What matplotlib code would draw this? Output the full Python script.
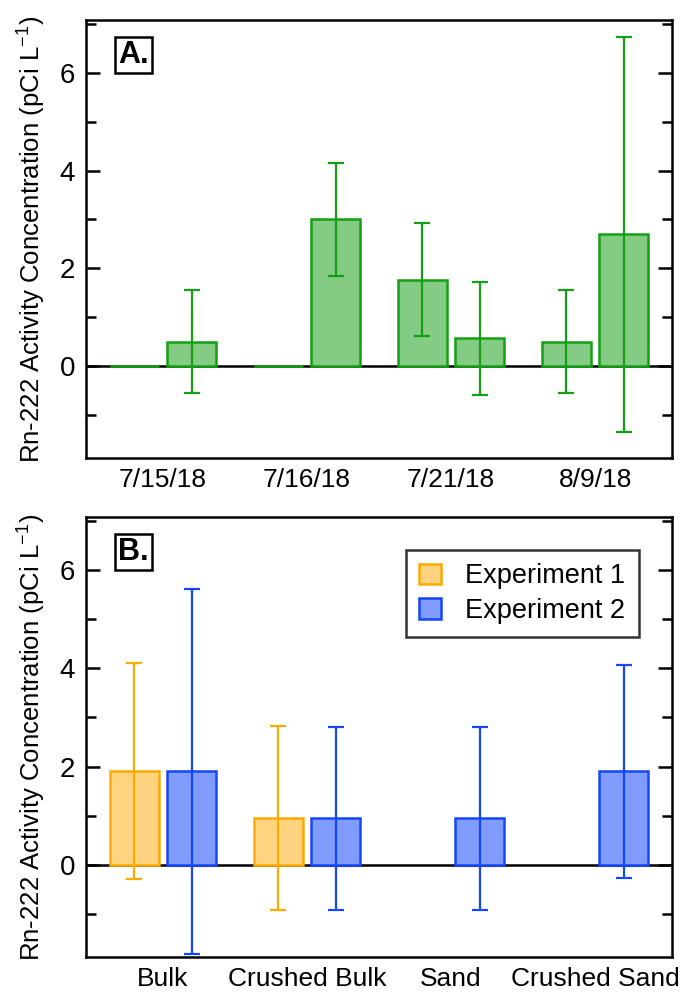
import numpy as np
import matplotlib.pyplot as plt
from matplotlib.patches import Patch

plt.rcParams['font.family'] = ['Liberation Sans', 'DejaVu Sans']

# panel A : sampling dates, two samples per date
dates = ['7/15/18', '7/16/18', '7/21/18', '8/9/18']
a_first = [0.0, 0.0, 1.77, 0.5]
a_first_err = [np.nan, np.nan, 1.15, 1.05]
a_second = [0.5, 3.0, 0.57, 2.7]
a_second_err = [1.05, 1.15, 1.16, 4.04]

# panel B : sample types, two experiments
samples = ['Bulk', 'Crushed Bulk', 'Sand', 'Crushed Sand']
exp1 = [1.91, 0.95, np.nan, np.nan]
exp1_err = [2.19, 1.87, np.nan, np.nan]
exp2 = [1.90, 0.95, 0.95, 1.90]
exp2_err = [3.72, 1.86, 1.86, 2.17]

ylab = 'Rn-222 Activity Concentration (pCi L$^{\\mathregular{-1}}$)'
w = 0.34
off = 0.2

green_e, green_f = '#14a014', '#84cc84'
orange_e, orange_f = '#ffaa00', '#ffd480'
blue_e, blue_f = '#1446ff', '#809cff'


def style_axes(ax, cats):
    ax.set_xlim(-0.535, 3.535)
    ax.set_ylim(-1.88, 7.08)
    ax.axhline(0, color='black', lw=1.8, zorder=1)
    ax.set_yticks([0, 2, 4, 6])
    ax.set_yticks([-1, 1, 3, 5, 7], minor=True)
    ax.tick_params(axis='y', which='both', direction='in', right=True,
                   width=1.8, labelsize=20, pad=8)
    ax.tick_params(axis='y', which='major', length=10)
    ax.tick_params(axis='y', which='minor', length=7)
    ax.set_xticks(np.arange(len(cats)))
    ax.set_xticklabels(cats, fontsize=19)
    ax.tick_params(axis='x', length=0, pad=7)
    for s in ax.spines.values():
        s.set_linewidth(1.8)
    ax.set_ylabel(ylab, fontsize=18.5, labelpad=9)


def bars(ax, x, vals, errs, edge, face):
    ax.bar(x, vals, width=w, color=face, edgecolor=edge, linewidth=1.8, zorder=2)
    ax.errorbar(x, vals, yerr=errs, fmt='none', ecolor=edge, elinewidth=1.6,
                capsize=6, capthick=1.6, zorder=3)


fig = plt.figure(figsize=(6.88, 9.94), dpi=100)
axA = fig.add_axes([0.125, 0.539, 0.852, 0.441])
axB = fig.add_axes([0.125, 0.037, 0.852, 0.443])

x = np.arange(len(dates))
bars(axA, x - off, a_first, a_first_err, green_e, green_f)
bars(axA, x + off, a_second, a_second_err, green_e, green_f)
style_axes(axA, dates)

x = np.arange(len(samples))
bars(axB, x - off, exp1, exp1_err, orange_e, orange_f)
bars(axB, x + off, exp2, exp2_err, blue_e, blue_f)
style_axes(axB, samples)

for ax, t in [(axA, 'A.'), (axB, 'B.')]:
    ax.text(0.055, 0.955, t, transform=ax.transAxes, fontsize=22, fontweight='bold',
            va='top', ha='left',
            bbox=dict(boxstyle='square,pad=0.1', fc='white', ec='black', lw=1.8))

handles = [Patch(facecolor=orange_f, edgecolor=orange_e, lw=1.8, label='Experiment 1'),
           Patch(facecolor=blue_f, edgecolor=blue_e, lw=1.8, label='Experiment 2')]
leg = axB.legend(handles=handles, loc='upper right', bbox_to_anchor=(0.943, 0.925),
                 fontsize=19.5, frameon=True, fancybox=False, edgecolor='black',
                 handlelength=0.8, handleheight=0.8, handletextpad=0.9,
                 labelspacing=0.3, borderpad=0.5, borderaxespad=0)
leg.get_frame().set_linewidth(1.8)

fig.savefig('out.png', dpi=100)
